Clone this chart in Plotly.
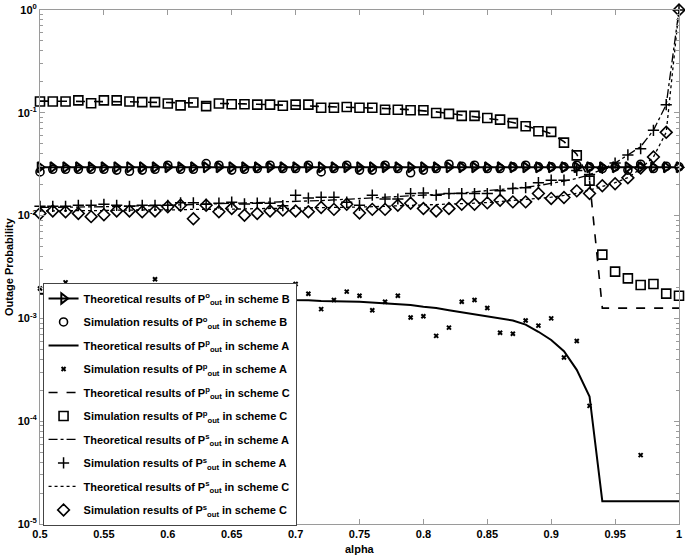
import plotly.graph_objects as go

alpha = [0.50, 0.51, 0.52, 0.53, 0.54, 0.55, 0.56, 0.57, 0.58, 0.59,
         0.60, 0.61, 0.62, 0.63, 0.64, 0.65, 0.66, 0.67, 0.68, 0.69,
         0.70, 0.71, 0.72, 0.73, 0.74, 0.75, 0.76, 0.77, 0.78, 0.79,
         0.80, 0.81, 0.82, 0.83, 0.84, 0.85, 0.86, 0.87, 0.88, 0.89,
         0.90, 0.91, 0.92, 0.93, 0.94, 0.95, 0.96, 0.97, 0.98, 0.99, 1.00]

# P^o_out scheme B
theo_o_B = [0.0295] * 51
sim_o_B = [0.0266, 0.0282, 0.0282, 0.0282, 0.0282, 0.0282, 0.0277, 0.0270, 0.0277, 0.0282,
           0.0309, 0.0282, 0.0282, 0.0321, 0.0309, 0.0277, 0.0282, 0.0287, 0.0309, 0.0287,
           0.0287, 0.0309, 0.0266, 0.0287, 0.0309, 0.0277, 0.0277, 0.0309, 0.0287, 0.0261,
           0.0277, 0.0287, 0.0316, 0.0302, 0.0309, 0.0287, 0.0287, 0.0298, 0.0309, 0.0298,
           0.0298, 0.0298, 0.0309, 0.0298, 0.0287, 0.0298, 0.0277, 0.0316, 0.0287, 0.0302, 0.0298]

# P^p_out scheme A
theo_p_A = [0.00174, 0.00174, 0.00172, 0.00170, 0.00170, 0.00168, 0.00166, 0.00166, 0.00164, 0.00162,
            0.00162, 0.00160, 0.00158, 0.00158, 0.00157, 0.00155, 0.00155, 0.00153, 0.00153, 0.00151,
            0.00151, 0.00150, 0.00148, 0.00148, 0.00146, 0.00145, 0.00143, 0.00141, 0.00138, 0.00135,
            0.00130, 0.00126, 0.00120, 0.00115, 0.00110, 0.00105, 0.00101, 0.000955, 0.000871, 0.000741,
            0.000617, 0.000479, 0.000316, 0.000174, 0.0000166, 0.0000166, 0.0000166, 0.0000166, 0.0000166, 0.0000166, 0.0000166]
sim_p_A = [0.00195, 0.00142, 0.00224, 0.00135, 0.00170, 0.00120, 0.00185, 0.00155, 0.00130, 0.00240,
           0.00160, 0.00175, 0.00140, 0.00150, 0.00190, 0.00125, 0.00165, 0.00145, 0.00180, 0.00135,
           0.00216, 0.00174, 0.00123, 0.00151, 0.00182, 0.00166, 0.00120, 0.00145, 0.00166, 0.00102,
           0.00105, 0.000676, 0.000813, 0.00145, 0.00151, 0.00126, 0.000724, 0.000708, 0.000955, 0.000851,
           0.00100, 0.000417, 0.000603, 0.000141, None, None, None, 0.0000468, None, None, None]

# P^p_out scheme C
theo_p_C = [0.130, 0.130, 0.130, 0.129, 0.129, 0.129, 0.128, 0.128, 0.127, 0.127,
            0.126, 0.126, 0.125, 0.124, 0.124, 0.123, 0.122, 0.121, 0.120, 0.119,
            0.118, 0.117, 0.116, 0.115, 0.114, 0.113, 0.112, 0.110, 0.109, 0.107,
            0.105, 0.102, 0.0985, 0.0950, 0.0915, 0.0880, 0.0850, 0.0805, 0.0750, 0.0690,
            0.0625, 0.0525, 0.0395, 0.0219, 0.00126, 0.00126, 0.00126, 0.00126, 0.00126, 0.00126, 0.00126]
sim_p_C = [0.129, 0.129, 0.129, 0.132, 0.124, 0.132, 0.132, 0.129, 0.127, 0.127,
           0.123, 0.118, 0.126, 0.116, 0.123, 0.121, 0.121, 0.120, 0.120, 0.117,
           0.120, 0.120, 0.112, 0.112, 0.114, 0.112, 0.112, 0.107, 0.107, 0.106,
           0.106, 0.0995, 0.0977, 0.0933, 0.0933, 0.0891, 0.0859, 0.0794, 0.0741, 0.0661,
           0.0652, 0.0513, 0.0385, 0.0219, 0.00417, 0.00285, 0.00245, 0.00211, 0.00216, 0.00174, 0.00166]

# P^s_out scheme A
theo_s_A = [0.0120, 0.0120, 0.0121, 0.0121, 0.0122, 0.0122, 0.0123, 0.0123, 0.0124, 0.0125,
            0.0126, 0.0127, 0.0128, 0.0129, 0.0130, 0.0131, 0.0132, 0.0133, 0.0134, 0.0136,
            0.0137, 0.0139, 0.0140, 0.0142, 0.0144, 0.0146, 0.0148, 0.0150, 0.0152, 0.0155,
            0.0157, 0.0160, 0.0163, 0.0166, 0.0170, 0.0174, 0.0178, 0.0183, 0.0189, 0.0196,
            0.0205, 0.0216, 0.0230, 0.0250, 0.0282, 0.0324, 0.0389, 0.0468, 0.0676, 0.120, 1.0]
sim_s_A = [0.0123, 0.0123, 0.0123, 0.0126, 0.0126, 0.0129, 0.0126, 0.0123, 0.0126, 0.0126,
           0.0126, 0.0133, 0.0133, 0.0129, 0.0132, 0.0135, 0.0130, 0.0132, 0.0132, 0.0125,
           0.0158, 0.0148, 0.0151, 0.0151, 0.0135, 0.0126, 0.0158, 0.0145, 0.0145, 0.0164,
           0.0166, 0.0158, 0.0164, 0.0164, 0.0164, 0.0164, 0.0174, 0.0184, 0.0187, 0.0209,
           0.0221, 0.0221, 0.0275, 0.0251, 0.0288, 0.0324, 0.0389, 0.0447, 0.0676, 0.120, 1.0]

# P^s_out scheme C
theo_s_C = [0.0111, 0.0111, 0.0111, 0.0112, 0.0112, 0.0112, 0.0113, 0.0113, 0.0113, 0.0114,
            0.0114, 0.0114, 0.0115, 0.0115, 0.0115, 0.0116, 0.0116, 0.0117, 0.0117, 0.0118,
            0.0118, 0.0119, 0.0119, 0.0120, 0.0121, 0.0121, 0.0122, 0.0123, 0.0124, 0.0125,
            0.0126, 0.0127, 0.0129, 0.0130, 0.0132, 0.0134, 0.0137, 0.0140, 0.0143, 0.0147,
            0.0151, 0.0157, 0.0165, 0.0177, 0.0193, 0.0209, 0.0234, 0.0285, 0.0372, 0.0646, 1.0]
sim_s_C = [0.0105, 0.0111, 0.0109, 0.0105, 0.00977, 0.0102, 0.0111, 0.0111, 0.0109, 0.0111,
           0.0122, 0.0126, 0.00933, 0.0126, 0.0109, 0.0117, 0.0101, 0.0105, 0.0111, 0.0113,
           0.0111, 0.0109, 0.0120, 0.0115, 0.0129, 0.0106, 0.0115, 0.0115, 0.0126, 0.0132,
           0.0117, 0.0111, 0.0117, 0.0129, 0.0129, 0.0133, 0.0141, 0.0136, 0.0136, 0.0164,
           0.0147, 0.0150, 0.0174, 0.0164, 0.0195, 0.0204, 0.0233, 0.0291, 0.0372, 0.0646, 1.0]

x_ticks = [0.5, 0.55, 0.6, 0.65, 0.7, 0.75, 0.8, 0.85, 0.9, 0.95, 1.0]
x_tick_text = ["0.5", "0.55", "0.6", "0.65", "0.7", "0.75", "0.8", "0.85", "0.9", "0.95", "1"]
y_ticks = [1e-5, 1e-4, 1e-3, 1e-2, 1e-1, 1]
y_tick_text = ["10<sup>-5</sup>", "10<sup>-4</sup>", "10<sup>-3</sup>", "10<sup>-2</sup>",
               "10<sup>-1</sup>", "10<sup>0</sup>"]

P = lambda s: "P<sup>%s</sup><sub>out</sub>" % s

fig = go.Figure()
K = "black"
traces = [
    (theo_o_B, "lines+markers", "Theoretical results of " + P("o") + " in scheme B",
     dict(color=K, width=2), dict(symbol="triangle-right-open", size=9, color=K, line=dict(width=2, color=K))),
    (sim_o_B, "markers", "Simulation results of " + P("o") + " in scheme B",
     None, dict(symbol="circle-open", size=8, color=K, line=dict(width=1.6, color=K))),
    (theo_p_A, "lines", "Theoretical results of " + P("p") + " in scheme A",
     dict(color=K, width=2), None),
    (sim_p_A, "markers", "Simulation results of " + P("p") + " in scheme A",
     None, dict(symbol="x-thin-open", size=4, color=K, line=dict(width=2, color=K))),
    (theo_p_C, "lines", "Theoretical results of " + P("p") + " in scheme C",
     dict(color=K, width=1.6, dash="dash"), None),
    (sim_p_C, "markers", "Simulation results of " + P("p") + " in scheme C",
     None, dict(symbol="square-open", size=9, color=K, line=dict(width=1.6, color=K))),
    (theo_s_A, "lines", "Theoretical results of " + P("s") + " in scheme A",
     dict(color=K, width=1.3, dash="dashdot"), None),
    (sim_s_A, "markers", "Simulation results of " + P("s") + " in scheme A",
     None, dict(symbol="cross-thin-open", size=8, color=K, line=dict(width=1.5, color=K))),
    (theo_s_C, "lines", "Theoretical results of " + P("s") + " in scheme C",
     dict(color=K, width=1.3, dash="dot"), None),
    (sim_s_C, "markers", "Simulation results of " + P("s") + " in scheme C",
     None, dict(symbol="diamond-open", size=9, color=K, line=dict(width=1.6, color=K))),
]
for i, (yv, mode, name, line, marker) in enumerate(traces):
    kw = dict(x=alpha, y=yv, mode=mode, name=name, legendgroup="g%d" % i, cliponaxis=False)
    if line is not None:
        kw["line"] = line
    if marker is not None:
        kw["marker"] = marker
    fig.add_trace(go.Scatter(**kw))

axis_col = "#9a9a9a"
fig.update_layout(
    width=685, height=559,
    margin=dict(l=40, r=6, t=10, b=35),
    paper_bgcolor="white", plot_bgcolor="white",
    font=dict(family="Liberation Sans, Arial, sans-serif", size=11, color="black", weight="bold"),
    showlegend=True,
    legend=dict(x=0.004, y=0.469, xanchor="left", yanchor="top",
                bgcolor="white", bordercolor="#444444", borderwidth=1,
                font=dict(size=11, weight="bold"), tracegroupgap=4.5, itemwidth=30),
    xaxis=dict(range=[0.5, 1.0], tickvals=x_ticks, ticktext=x_tick_text, automargin=False,
               ticks="inside", ticklen=5, tickcolor=axis_col, showline=True, linecolor=axis_col,
               linewidth=1, mirror="ticks", showgrid=False, zeroline=False),
    yaxis=dict(type="log", range=[-5, 0], tickvals=y_ticks, ticktext=y_tick_text, automargin=False,
               ticks="inside", ticklen=5, tickcolor=axis_col, showline=True, linecolor=axis_col,
               linewidth=1, mirror="ticks", showgrid=False, zeroline=False,
               minor=dict(ticks="inside", ticklen=3, tickcolor=axis_col, dtick="D1", showgrid=False)),
    annotations=[
        dict(text="alpha", xref="paper", yref="paper", x=0.5, y=0, yanchor="top",
             yshift=-17, showarrow=False, font=dict(size=11, weight="bold")),
        dict(text="Outage Probability", xref="paper", yref="paper", x=0, xanchor="center",
             xshift=-31, y=0.5, textangle=-90, showarrow=False, font=dict(size=11, weight="bold")),
    ],
)

fig.write_html("out.html", config={"displayModeBar": False},
               post_script="document.body.style.margin='0';")
